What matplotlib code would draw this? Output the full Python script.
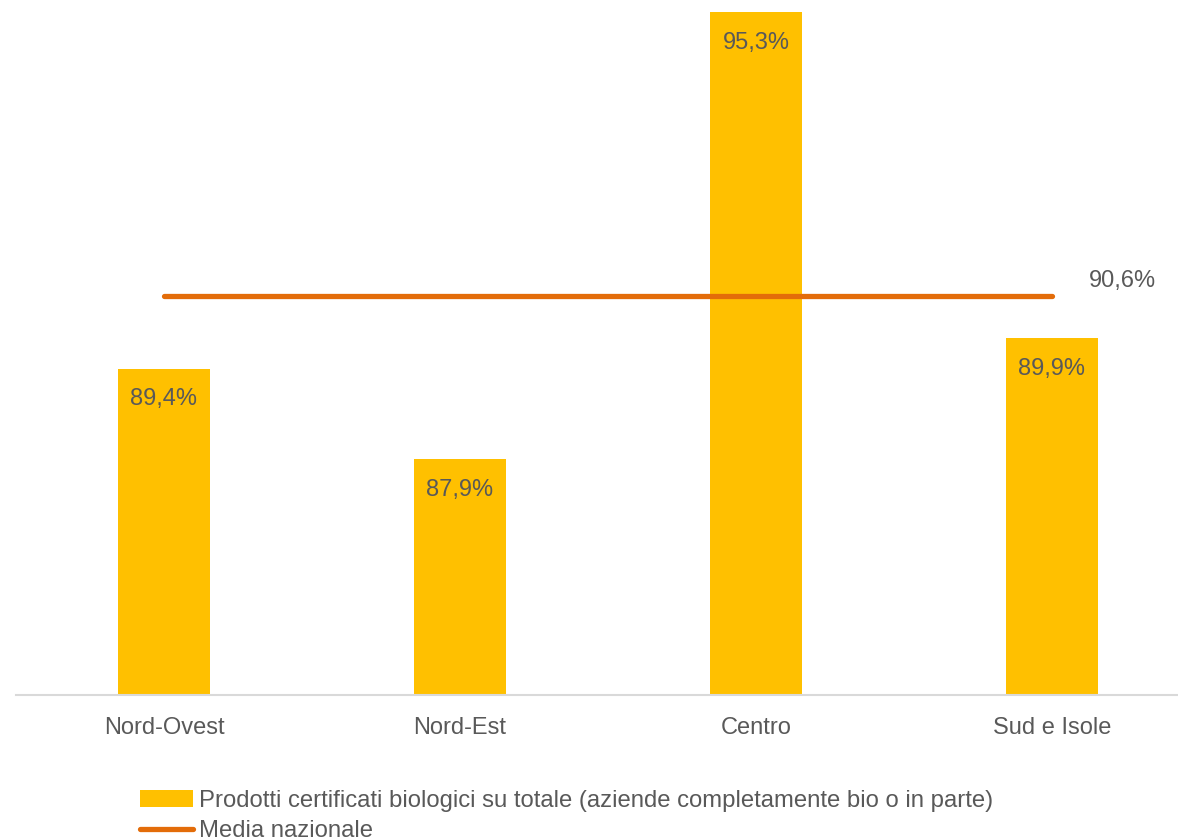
import matplotlib.pyplot as plt
import numpy as np

plt.rcParams['font.family'] = ['Liberation Sans', 'DejaVu Sans']

# data
regions = ['Nord-Ovest', 'Nord-Est', 'Centro', 'Sud e Isole']
share_bio = [89.4, 87.9, 95.3, 89.9]
media_nazionale = 90.6

bar_label = 'Prodotti certificati biologici su totale (aziende completamente bio o in parte)'
line_label = 'Media nazionale'

bar_color = '#FFC000'
line_color = '#E36C09'
text_color = '#595959'


def fmt(v):
    return '{:.1f}%'.format(v).replace('.', ',')


fig = plt.figure(figsize=(11.78, 8.4), dpi=100)
ax = fig.add_axes([16 / 1178, 145 / 840, 1162 / 1178, 695 / 840])

x = np.arange(len(regions))
bars = ax.bar(x, share_bio, width=0.31, color=bar_color, label=bar_label, zorder=2)
line, = ax.plot([x[0], x[-1]], [media_nazionale] * 2, color=line_color, lw=3.8,
                solid_capstyle='round', label=line_label, zorder=3)

for xi, v in zip(x, share_bio):
    ax.annotate(fmt(v), (xi, v), xytext=(0, -22), textcoords='offset points',
                ha='center', va='center', fontsize=17, color=text_color, zorder=4)

ax.annotate(fmt(media_nazionale), (x[-1], media_nazionale), xytext=(51, 11),
            textcoords='offset points', ha='center', va='center',
            fontsize=17, color=text_color)

ax.set_xlim(-0.5, 3.426)
ax.set_ylim(84, 95.5)
ax.set_xticks(x)
ax.set_xticklabels(regions, fontsize=17, color=text_color)
ax.tick_params(axis='x', length=0, pad=16)
ax.set_yticks([])
for s in ['top', 'right', 'left']:
    ax.spines[s].set_visible(False)
ax.spines['bottom'].set_color('#D9D9D9')
ax.spines['bottom'].set_linewidth(1.5)

leg = fig.legend(handles=[bars, line], labels=[bar_label, line_label],
                 loc='upper left', bbox_to_anchor=(140 / 1178, 1 - 790 / 840),
                 frameon=False, fontsize=17.2, handlelength=2.2, handleheight=0.7,
                 handletextpad=0.25, labelspacing=0.33, borderpad=0, borderaxespad=0)
for t in leg.get_texts():
    t.set_color(text_color)

fig.savefig('out.png', dpi=100)
